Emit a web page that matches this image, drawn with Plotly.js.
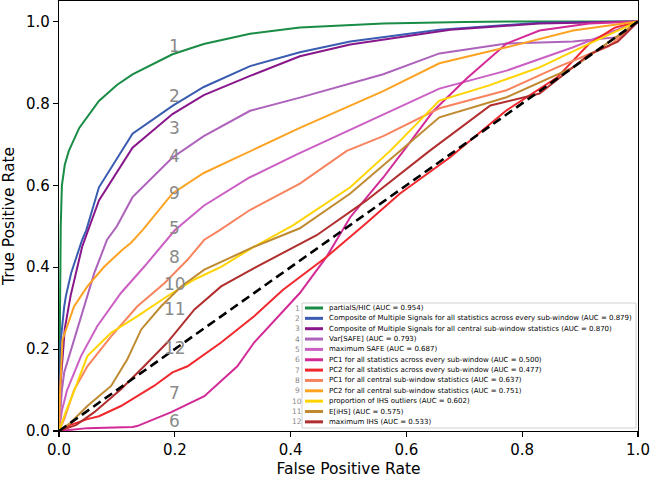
<!DOCTYPE html>
<html><head><meta charset="utf-8">
<script src="https://cdn.plot.ly/plotly-3.0.1.min.js"></script>
<style>html,body{margin:0;padding:0;background:#fff}</style>
</head><body><div id="chart" style="width:650px;height:478px"></div>
<script>
// ---- data ----
const seriesNames = [
  'partialS/HIC',
  'Composite of Multiple Signals for all statistics across every sub-window',
  'Composite of Multiple Signals for all central sub-window statistics',
  'Var[SAFE]',
  'maximum SAFE',
  'PC1 for all statistics across every sub-window',
  'PC2 for all statistics across every sub-window',
  'PC1 for all central sub-window statistics',
  'PC2 for all central sub-window statistics',
  'proportion of IHS outliers',
  'E[iHS]',
  'maximum IHS'
];
const aucValues = [0.954, 0.879, 0.870, 0.793, 0.687, 0.500, 0.477, 0.637, 0.751, 0.602, 0.575, 0.533];
const curveLabels = ['1','2','3','4','5','6','7','8','9','10','11','12'];

const fpr1 = [0,0.002,0.003,0.005,0.01,0.017,0.035,0.069,0.1,0.127,0.196,0.25,0.33,0.416,0.56,0.7,0.8,1];
const tpr1 = [0,0.3,0.5,0.6,0.65,0.684,0.74,0.806,0.845,0.871,0.92,0.945,0.97,0.985,0.995,0.999,1,1];

const fpr2 = [0,0.002,0.003,0.009,0.012,0.021,0.04,0.047,0.069,0.127,0.196,0.25,0.33,0.416,0.503,0.657,0.83,1];
const tpr2 = [0,0.15,0.22,0.304,0.33,0.386,0.467,0.49,0.595,0.726,0.794,0.84,0.891,0.925,0.951,0.98,0.997,1];

const fpr3 = [0,0.003,0.01,0.02,0.04,0.069,0.127,0.196,0.25,0.33,0.416,0.503,0.676,0.83,1];
const tpr3 = [0,0.12,0.25,0.33,0.45,0.563,0.692,0.774,0.82,0.867,0.915,0.944,0.98,0.995,1];

const fpr4 = [0,0.005,0.009,0.026,0.043,0.061,0.083,0.1,0.127,0.196,0.25,0.33,0.416,0.56,0.657,0.773,0.888,0.974,1];
const tpr4 = [0,0.1,0.143,0.223,0.304,0.386,0.467,0.5,0.571,0.668,0.72,0.782,0.814,0.871,0.922,0.946,0.951,0.963,1];

const fpr5 = [0,0.005,0.014,0.038,0.066,0.107,0.147,0.187,0.2,0.25,0.329,0.41,0.56,0.657,0.773,0.888,1];
const tpr5 = [0,0.05,0.1,0.183,0.256,0.337,0.401,0.467,0.49,0.55,0.619,0.675,0.774,0.836,0.88,0.937,1];

const fpr6 = [0,0.049,0.127,0.135,0.194,0.251,0.308,0.337,0.416,0.462,0.503,0.56,0.595,0.647,0.705,0.773,0.83,0.916,1];
const tpr6 = [0,0.007,0.01,0.012,0.046,0.085,0.158,0.216,0.337,0.425,0.522,0.619,0.684,0.782,0.862,0.946,0.978,0.995,1];

const fpr7 = [0,0.02,0.049,0.069,0.107,0.164,0.196,0.222,0.28,0.337,0.387,0.462,0.531,0.589,0.675,0.773,0.86,0.916,0.96,1];
const tpr7 = [0,0.015,0.029,0.036,0.061,0.11,0.143,0.158,0.216,0.28,0.345,0.425,0.508,0.58,0.668,0.783,0.863,0.946,0.985,1];

const fpr8 = [0,0.009,0.026,0.049,0.09,0.135,0.182,0.222,0.251,0.277,0.329,0.416,0.497,0.56,0.657,0.773,0.86,0.95,1];
const tpr8 = [0,0.029,0.1,0.158,0.231,0.304,0.361,0.418,0.467,0.49,0.539,0.604,0.684,0.72,0.788,0.832,0.888,0.94,1];

const fpr9 = [0,0.002,0.006,0.026,0.049,0.078,0.109,0.124,0.144,0.196,0.25,0.33,0.416,0.56,0.657,0.773,0.888,1];
const tpr9 = [0,0.1,0.223,0.304,0.353,0.401,0.442,0.459,0.49,0.58,0.63,0.684,0.74,0.83,0.898,0.937,0.978,1];

const fpr10 = [0,0.01,0.027,0.049,0.09,0.135,0.187,0.234,0.28,0.337,0.404,0.503,0.572,0.657,0.743,0.83,0.916,1];
const tpr10 = [0,0.04,0.101,0.183,0.24,0.28,0.329,0.37,0.401,0.45,0.502,0.595,0.684,0.807,0.844,0.888,0.946,1];

const fpr11 = [0,0.02,0.049,0.09,0.118,0.142,0.176,0.211,0.251,0.337,0.416,0.503,0.589,0.657,0.773,0.888,0.946,1];
const tpr11 = [0,0.02,0.061,0.11,0.175,0.248,0.304,0.353,0.394,0.45,0.495,0.58,0.684,0.766,0.815,0.888,0.946,1];

const fpr12 = [0,0.03,0.061,0.107,0.147,0.187,0.234,0.28,0.337,0.445,0.531,0.64,0.745,0.83,0.916,0.965,1];
const tpr12 = [0,0.015,0.046,0.102,0.158,0.216,0.297,0.353,0.398,0.478,0.563,0.684,0.795,0.824,0.92,0.951,1];

const chanceX = [0, 1];
const chanceY = [0, 1];

// ---- styling ----
const colors = ['#198c45','#3a5cb0','#87178a','#ad62bb','#cb5fc4','#d22a96','#f0282d','#f7845e','#fca323','#ffd400','#bf8a30','#b02e2e'];
const fprs = [fpr1,fpr2,fpr3,fpr4,fpr5,fpr6,fpr7,fpr8,fpr9,fpr10,fpr11,fpr12];
const tprs = [tpr1,tpr2,tpr3,tpr4,tpr5,tpr6,tpr7,tpr8,tpr9,tpr10,tpr11,tpr12];
const labelY = [0.94,0.818,0.74,0.672,0.495,0.024,0.093,0.426,0.582,0.358,0.297,0.202];

const traces = fprs.map((x,i)=>({
  x: x, y: tprs[i], type:'scatter', mode:'lines',
  name: seriesNames[i] + ' (AUC = ' + aucValues[i].toFixed(3) + ')',
  line:{color:colors[i], width:2}, showlegend:false, hoverinfo:'skip'
}));
traces.push({x:chanceX, y:chanceY, type:'scatter', mode:'lines',
  line:{color:'#000', width:2.6, dash:'9px,5px'}, showlegend:false, hoverinfo:'skip'});

// pixel -> paper helpers (plot area: x 59..638, y 1..431)
const PL=59, PR=638, PT=1, PB=431;
const px = v => (v-PL)/(PR-PL);
const py = v => (PB-v)/(PB-PT);

const annotations = [];
const shapes = [];
// curve number labels
curveLabels.forEach((t,i)=>{
  annotations.push({x:0.2, y:labelY[i], xref:'x', yref:'y', text:t, showarrow:false,
    xanchor:'center', yanchor:'middle', font:{family:'DejaVu Sans', size:17, color:'#8a8a8a'}});
});
// manual legend
shapes.push({type:'rect', xref:'paper', yref:'paper', x0:px(302), x1:px(636), y0:py(428), y1:py(303),
  line:{color:'#d0d0d0', width:1}, fillcolor:'rgba(255,255,255,0.85)', layer:'above'});
seriesNames.forEach((n,i)=>{
  const yy = 308 + 10.35*i;
  shapes.push({type:'line', xref:'paper', yref:'paper', x0:px(305), x1:px(323), y0:py(yy), y1:py(yy),
    line:{color:colors[i], width:3}, layer:'above'});
  annotations.push({x:px(327), y:py(yy), xref:'paper', yref:'paper', text:n + ' (AUC = ' + aucValues[i].toFixed(3) + ')',
    showarrow:false, xanchor:'left', yanchor:'middle', font:{family:'DejaVu Sans', size:7.0, color:'#000'}});
  annotations.push({x:px(297), y:py(yy), xref:'paper', yref:'paper', text:curveLabels[i],
    showarrow:false, xanchor:'center', yanchor:'middle', font:{family:'DejaVu Sans', size:7.5, color:'#8a8a8a'}});
});

const axisCommon = {
  showline:true, mirror:true, linecolor:'#000', linewidth:1.2,
  ticks:'outside', ticklen:5, tickwidth:1.2, tickcolor:'#000',
  showgrid:false, zeroline:false, tickformat:'.1f', tick0:0, dtick:0.2,
  ticklabeloverflow:'allow',
  tickfont:{family:'DejaVu Sans', size:15, color:'#000'}
};
const layout = {
  width:650, height:478,
  margin:{l:PL, r:650-PR, t:PT, b:478-PB},
  paper_bgcolor:'#fff', plot_bgcolor:'#fff',
  xaxis:Object.assign({}, axisCommon, {range:[0,1],
    title:{text:'False Positive Rate', font:{family:'DejaVu Sans', size:15.5, color:'#000'}, standoff:8}}),
  yaxis:Object.assign({}, axisCommon, {range:[0,1.05],
    title:{text:'True Positive Rate', font:{family:'DejaVu Sans', size:15.5, color:'#000'}, standoff:8}}),
  annotations:annotations, shapes:shapes, showlegend:false
};
Plotly.newPlot('chart', traces, layout, {displayModeBar:false, staticPlot:true});
</script></body></html>
